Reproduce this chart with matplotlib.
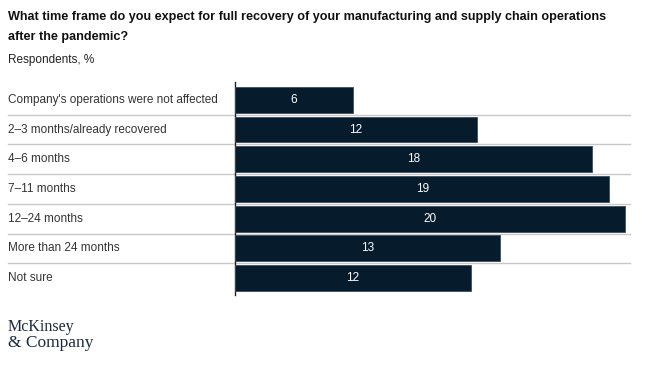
import matplotlib.pyplot as plt

# Данные
categories = ["Company's operations were not affected", "2\u20133 months/already recovered",
              "4\u20136 months", "7\u201311 months", "12\u201324 months",
              "More than 24 months", "Not sure"]
bar_values = [6.05, 12.4, 18.3, 19.2, 20.0, 13.6, 12.1]   # длины, оцененные по картинке
value_labels = ["6", "12", "18", "19", "20", "13", "12"]

title = ("What time frame do you expect for full recovery of your manufacturing and supply chain operations\n"
         "after the pandemic?")
subtitle = "Respondents, %"

W, H = 666, 374
bar_color = "#061c2c"
plt.rcParams['font.family'] = ['Liberation Sans', 'DejaVu Sans']

fig = plt.figure(figsize=(W / 100, H / 100), dpi=100)
left, right, top, bottom = 235, 630, 82, 295
ax = fig.add_axes([left / W, 1 - bottom / H, (right - left) / W, (bottom - top) / H])

y = list(range(len(categories)))
ax.barh(y, bar_values, height=0.87, color=bar_color, edgecolor="#3d4d5a", linewidth=0.6, zorder=3)
for yi, v, lab in zip(y, bar_values, value_labels):
    ax.text(v / 2, yi, lab, color="white", ha="center", va="center", fontsize=8.5, zorder=4)

ax.set_xlim(0, 20 * (right - left) / 390)
ax.set_ylim(6.57, -0.6)

# разделители между строками
x0 = (8 - left) / (right - left)
for k in range(len(categories) - 1):
    ax.axhline(k + 0.5, xmin=x0, xmax=1, color="#c8c8c8", linewidth=1.0, clip_on=False, zorder=1)

for s in ["top", "right", "bottom"]:
    ax.spines[s].set_visible(False)
ax.spines["left"].set_color("#222222")
ax.spines["left"].set_linewidth(1.0)
ax.set_xticks([])
ax.set_yticks([])

for yi, c in zip(y, categories):
    ax.text(x0 * ax.get_xlim()[1], yi, c, ha="left", va="center", fontsize=8.5, color="#333333")

fig.text(8 / W, 1 - 11 / H, title, ha="left", va="top", fontsize=9.05, fontweight="bold",
         color="#111111", linespacing=1.85)
fig.text(8 / W, 1 - 60 / H, subtitle, ha="left", va="center", fontsize=8.5, color="#222222")

fig.text(8 / W, 1 - 327 / H, "McKinsey", ha="left", va="center", fontsize=11.5,
         family="Liberation Serif", color="#1b2a3a")
fig.text(8 / W, 1 - 343 / H, "& Company", ha="left", va="center", fontsize=12.5,
         family="Liberation Serif", color="#1b2a3a")

fig.savefig("out.png", dpi=100)
